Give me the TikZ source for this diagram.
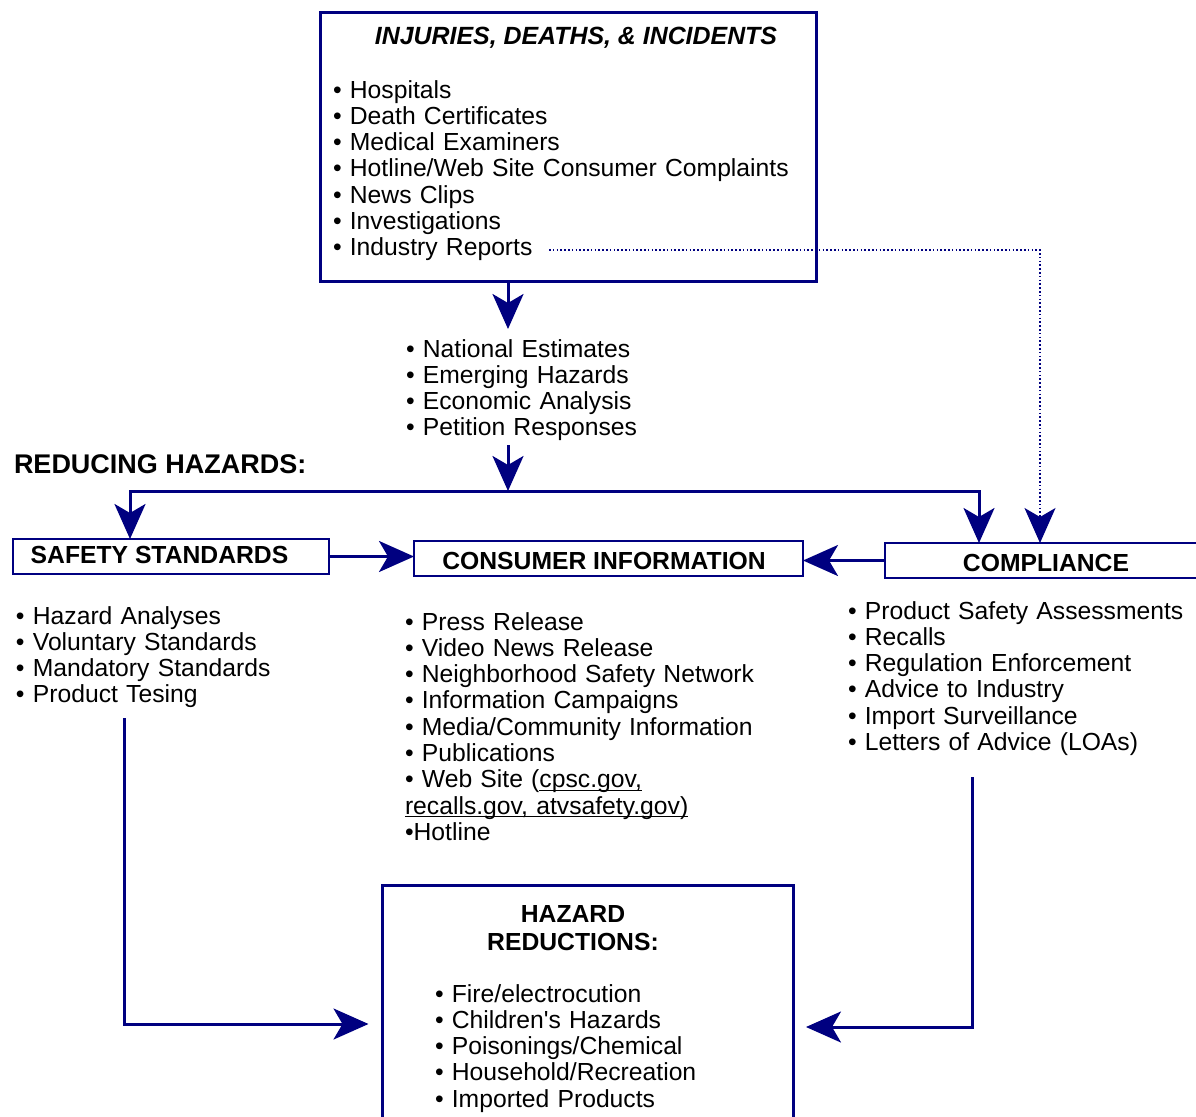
\documentclass[tikz,border=0pt]{standalone}
\usepackage{fontspec}
\setmainfont{Liberation Sans}[Ligatures=TeXOff]
\usetikzlibrary{arrows.meta}
\definecolor{navy}{RGB}{0,0,128}
\newlength\myulwidth
\newcommand\myul[1]{\leavevmode\settowidth\myulwidth{#1}\rlap{\rule[-3pt]{\myulwidth}{1.3pt}}#1}
\begin{document}
\begin{tikzpicture}[x=1pt,y=-1pt,
  every node/.style={inner sep=0pt, outer sep=0pt},
  body/.style={font=\fontsize{24.7}{26.3}\selectfont},
  lst/.style={body, align=left, anchor=base west, text width=#1},
  head/.style={font=\fontsize{24.7}{26.3}\selectfont\bfseries, anchor=base},
  bigbox/.style={draw=navy, line width=3pt, rectangle, anchor=north west},
  smallbox/.style={draw=navy, line width=1.4pt, rectangle, anchor=north west, minimum height=35pt},
  tipshape/.tip={Stealth[length=35pt,width=31pt,inset=9pt]},
  conn/.style={draw=navy, line width=3pt, -tipshape},
  dotconn/.style={draw=navy, line width=1.6pt, dash pattern=on 1.6pt off 2.2pt, -tipshape}]
\useasboundingbox (0,0) rectangle (1196,1116);
\clip (0,0) rectangle (1196,1116);

% boxes
\node[bigbox, minimum width=496pt, minimum height=269pt] (topbox) at (320.5,12.5) {};
\node[smallbox, minimum width=316pt] (safety) at (13,539) {};
\node[smallbox, minimum width=389pt] (consumer) at (414,541) {};
\node[smallbox, minimum width=400pt] (compliance) at (885,543) {};
\node[bigbox, minimum width=411pt, minimum height=300pt] (hazbox) at (382.5,885.5) {};

% texts
\node[font=\fontsize{24.9}{26.3}\selectfont\bfseries\itshape, anchor=base] (title) at (576,45) {INJURIES, DEATHS, \& INCIDENTS};
\node[lst=480pt] (toplist) at (333,98) {• Hospitals\\ • Death Certificates\\ • Medical Examiners\\ • Hotline/Web Site Consumer Complaints\\ • News Clips\\ • Investigations\\ • Industry Reports};
\node[lst=300pt] (midlist) at (406,357) {• National Estimates\\ • Emerging Hazards\\ • Economic Analysis\\ • Petition Responses};
\node[font=\fontsize{27}{30}\selectfont\bfseries, anchor=base west] (reducing) at (14,473) {REDUCING HAZARDS:};
\node[head] (safetylabel) at (159.5,563) {SAFETY STANDARDS};
\node[head] (consumerlabel) at (604,569) {CONSUMER INFORMATION};
\node[head] (compliancelabel) at (1046,571) {COMPLIANCE};
\node[lst=300pt] (safetylist) at (16,624) {• Hazard Analyses\\ • Voluntary Standards\\ • Mandatory Standards\\ • Product Tesing};
\node[lst=380pt] (consumerlist) at (405,630) {• Press Release\\ • Video News Release\\ • Neighborhood Safety Network\\ • Information Campaigns\\ • Media/Community Information\\ • Publications\\ • Web Site (\myul{cpsc.gov,}\\ \myul{recalls.gov, atvsafety.gov)}\\ •Hotline};
\node[lst=360pt] (compliancelist) at (848,619) {• Product Safety Assessments\\ • Recalls\\ • Regulation Enforcement\\ • Advice to Industry\\ • Import Surveillance\\ • Letters of Advice (LOAs)};
\node[font=\fontsize{24.7}{28}\selectfont\bfseries, align=center, text width=300pt, anchor=base] (haztitle) at (573,922) {HAZARD\\ REDUCTIONS:};
\node[lst=360pt] (hazlist) at (435,1002) {• Fire/electrocution\\ • Children's Hazards\\ • Poisonings/Chemical\\ • Household/Recreation\\ • Imported Products};

% helper coordinates
\coordinate (cx) at (508,0);
\coordinate (midtop) at (508,329);
\coordinate (midbot) at (508,445);
\coordinate (hub) at (508,491);
\coordinate (sx) at (130,0);
\coordinate (rx) at (979,0);
\coordinate (dx) at (1040,0);
\coordinate (dotstart) at (549,250);
\coordinate (lstart) at (124,718);
\coordinate (lcorner) at (124,1024);
\coordinate (rstart) at (972,777);
\coordinate (rcorner) at (972,1027);

% connectors
\draw[conn] (topbox.south -| cx) -- (midtop);
\draw[conn] (midbot) -- (hub);
\draw[conn] (hub) -| (safety.north -| sx);
\draw[conn] (hub) -| (compliance.north -| rx);
\draw[conn] (safety.east) -- (consumer.west |- safety.east);
\draw[conn] (compliance.west) -- (consumer.east |- compliance.west);
\draw[dotconn] (dotstart) -| (compliance.north -| dx);
\draw[conn] (lstart) |- ([xshift=-14pt]hazbox.west |- lcorner);
\draw[conn] (rstart) |- ([xshift=12.5pt]hazbox.east |- rcorner);
\end{tikzpicture}
\end{document}
